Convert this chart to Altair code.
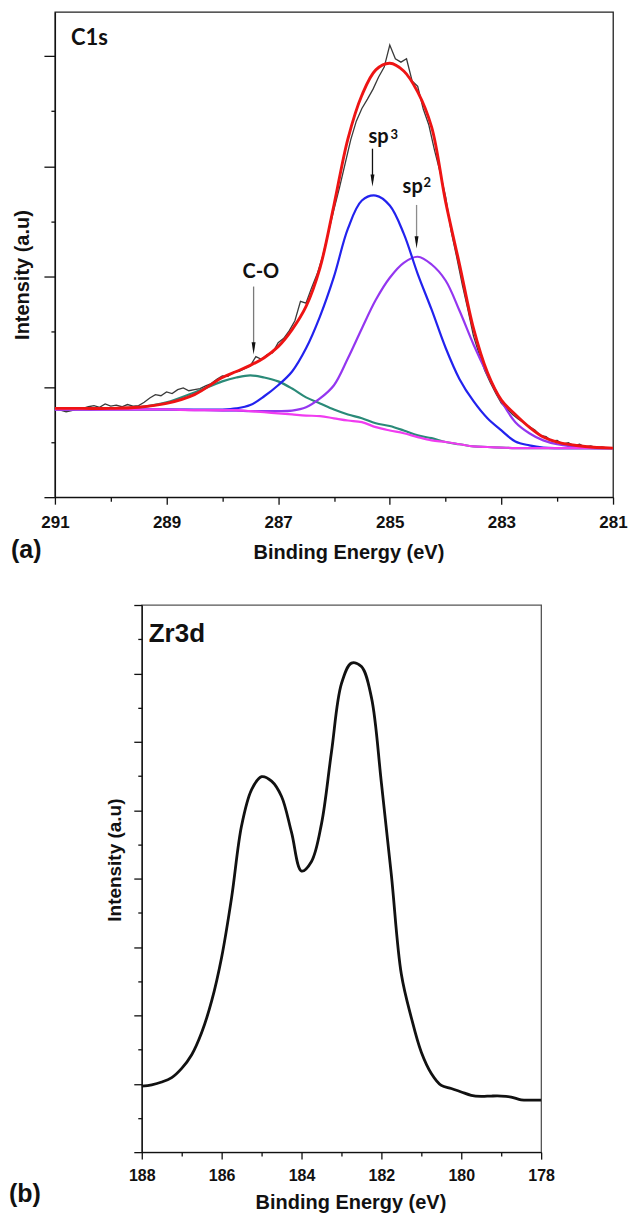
import altair as alt
import pandas as pd

ARIAL = "Liberation Sans"
CALIBRI = "Lato"

# ---------------- Panel (a): C1s ----------------
c1s_energy = [291.0, 290.5, 290.0, 289.5, 289.0, 288.5, 288.0, 287.75, 287.5, 287.25,
              287.0, 286.75, 286.5, 286.25, 286.0, 285.75, 285.5, 285.25, 285.0, 284.75,
              284.5, 284.25, 284.0, 283.75, 283.5, 283.25, 283.0, 282.75, 282.5, 282.25,
              282.0, 281.5, 281.0]
c1s_envelope = [1.61, 1.61, 1.61, 1.63, 1.70, 1.86, 2.17, 2.28, 2.39, 2.53,
                2.73, 3.04, 3.46, 4.16, 5.30, 6.50, 7.29, 7.75, 7.87, 7.73,
                7.35, 6.71, 5.36, 4.22, 3.06, 2.26, 1.76, 1.50, 1.27, 1.09,
                1.00, 0.92, 0.89]
c1s_sp3 = [1.59, 1.59, 1.59, 1.59, 1.59, 1.59, 1.59, 1.61, 1.67, 1.83,
           2.03, 2.28, 2.70, 3.28, 4.00, 4.87, 5.38, 5.47, 5.29, 4.78,
           4.05, 3.40, 2.71, 2.14, 1.74, 1.43, 1.21, 1.01, 0.94, 0.90,
           0.89, 0.89, 0.89]
c1s_sp2 = [1.59, 1.59, 1.59, 1.59, 1.59, 1.58, 1.57, 1.57, 1.56, 1.56,
           1.56, 1.57, 1.63, 1.79, 2.03, 2.52, 3.06, 3.58, 3.98, 4.25,
           4.36, 4.22, 3.93, 3.38, 2.77, 2.23, 1.74, 1.36, 1.16, 1.03,
           0.96, 0.90, 0.89]
c1s_co = [1.59, 1.59, 1.61, 1.63, 1.72, 1.90, 2.10, 2.17, 2.21, 2.17,
          2.10, 1.97, 1.81, 1.70, 1.59, 1.50, 1.43, 1.34, 1.29, 1.21,
          1.12, 1.07, 1.00, 0.96, 0.92, 0.91, 0.90, 0.89, 0.89, 0.89,
          0.89, 0.89, 0.89]
c1s_background = [1.59, 1.59, 1.59, 1.59, 1.59, 1.58, 1.58, 1.58, 1.56, 1.54,
                  1.52, 1.50, 1.48, 1.47, 1.43, 1.39, 1.36, 1.27, 1.21, 1.16,
                  1.09, 1.03, 1.00, 0.96, 0.92, 0.91, 0.90, 0.89, 0.89, 0.89,
                  0.89, 0.89, 0.89]

c1s_raw_energy = [291.0, 290.9, 290.8, 290.7, 290.6, 290.5, 290.4, 290.3, 290.2, 290.1,
                  290.0, 289.9, 289.8, 289.7, 289.6, 289.5, 289.4, 289.3, 289.2, 289.1,
                  289.0, 288.9, 288.8, 288.7, 288.6, 288.5, 288.4, 288.3, 288.2, 288.1,
                  288.0, 287.9, 287.8, 287.7, 287.6, 287.5, 287.4, 287.3, 287.2, 287.1,
                  287.0, 286.9, 286.8, 286.7, 286.6, 286.5, 286.4, 286.3, 286.2, 286.1,
                  286.0, 285.9, 285.8, 285.7, 285.6, 285.5, 285.4, 285.3, 285.2, 285.1,
                  285.0, 284.9, 284.8, 284.7, 284.6, 284.5, 284.4, 284.3, 284.2, 284.1,
                  284.0, 283.9, 283.8, 283.7, 283.6, 283.5, 283.4, 283.3, 283.2, 283.1,
                  283.0, 282.9, 282.8, 282.7, 282.6, 282.5, 282.4, 282.3, 282.2, 282.1,
                  282.0, 281.9, 281.8, 281.7, 281.6, 281.5, 281.4, 281.3, 281.2, 281.1,
                  281.0]
c1s_raw = [1.62, 1.58, 1.55, 1.57, 1.60, 1.61, 1.64, 1.66, 1.63, 1.69,
           1.65, 1.67, 1.64, 1.68, 1.65, 1.66, 1.72, 1.80, 1.86, 1.84,
           1.91, 1.88, 1.95, 1.98, 1.93, 1.95, 1.97, 2.02, 2.06, 2.14,
           2.20, 2.19, 2.27, 2.28, 2.33, 2.38, 2.55, 2.50, 2.58, 2.62,
           2.80, 2.88, 3.02, 3.20, 3.55, 3.52, 3.80, 4.05, 4.38, 4.80,
           5.22, 5.62, 6.05, 6.48, 6.82, 7.05, 7.22, 7.40, 7.62, 7.80,
           8.20, 7.95, 7.89, 7.95, 7.55, 7.45, 7.04, 6.75, 6.30, 5.90,
           5.45, 4.82, 4.35, 3.85, 3.40, 2.92, 2.60, 2.30, 2.08, 1.88,
           1.70, 1.60, 1.50, 1.42, 1.35, 1.28, 1.22, 1.12, 1.10, 1.02,
           1.03, 0.96, 0.99, 0.93, 0.96, 0.91, 0.93, 0.90, 0.91, 0.89,
           0.89]

# peak assignment arrows: energy, arrow top, arrowhead centre, shaft colour
arrow_energy = [285.31, 284.52, 287.44]
arrow_top = [6.32, 5.30, 3.82]
arrow_head = [5.74, 4.62, 2.70]
arrow_color = ["#111111", "#8c8c8c", "#7a7a7a"]

# peak labels
label_text = ["sp", "sp", "C-O"]
label_energy = [285.20, 284.59, 287.31]
label_y = [6.42, 5.52, 3.98]
sup_text = ["3", "2"]
sup_energy = [284.92, 284.33]
sup_y = [6.50, 5.63]

# ---------------- Panel (b): Zr3d ----------------
zr_energy = [188.0, 187.75, 187.5, 187.25, 187.0, 186.75, 186.5, 186.25, 186.0, 185.75,
             185.5, 185.25, 185.0, 184.75, 184.5, 184.25, 184.0, 183.75, 183.5, 183.25,
             183.0, 182.75, 182.5, 182.25, 182.0, 181.75, 181.5, 181.25, 181.0, 180.75,
             180.5, 180.25, 180.0, 179.75, 179.5, 179.25, 179.0, 178.75, 178.5, 178.25,
             178.0]
zr_intensity = [1.93, 1.97, 2.05, 2.18, 2.45, 2.85, 3.50, 4.42, 5.70, 7.45,
                9.55, 10.60, 10.98, 10.85, 10.40, 9.35, 8.22, 8.50, 9.60, 11.70,
                13.70, 14.30, 14.20, 13.30, 10.80, 8.10, 5.20, 3.93, 2.92, 2.30,
                1.95, 1.86, 1.76, 1.66, 1.63, 1.64, 1.64, 1.61, 1.53, 1.52,
                1.52]

ARROWHEAD = "M -0.32 -1 L 0.32 -1 L 0 1 Z"


def x_axis_enc(domain, values, label_parity, title, label_size, label_pad, title_x, title_y):
    return alt.X(
        "energy:Q",
        scale=alt.Scale(domain=domain, reverse=True, nice=False, zero=False),
        axis=alt.Axis(
            values=values,
            labelExpr=f"datum.value % 2 == {label_parity} ? datum.label : ''",
            tickSize=alt.condition(f"datum.value % 2 == {label_parity}", alt.value(7), alt.value(4)),
            labelFlush=False, labelOverlap=False, grid=False,
            labelFont=ARIAL, labelFontWeight="bold", labelFontSize=label_size,
            labelColor="#111111", labelPadding=label_pad,
            tickColor="#111111", tickWidth=1.3, domainColor="#111111", domainWidth=1.3,
            title=title, titleFont=ARIAL, titleFontWeight="bold", titleFontSize=20,
            titleColor="#111111", titleX=title_x, titleY=title_y,
            titleBaseline="middle", titleAlign="center",
        ),
    )


def y_axis_enc(field, domain, values, major_len, title_size, title_x, title_y):
    return alt.Y(
        f"{field}:Q",
        scale=alt.Scale(domain=domain, nice=False, zero=False),
        axis=alt.Axis(
            values=values, labels=False, grid=False,
            tickSize=alt.condition("datum.value % 2 == 0", alt.value(major_len), alt.value(4)),
            tickColor="#111111", tickWidth=1.3, domainColor="#111111", domainWidth=1.3,
            title="Intensity (a.u)", titleFont=ARIAL, titleFontWeight="bold",
            titleFontSize=title_size, titleColor="#111111",
            titleX=title_x, titleY=title_y, titleBaseline="middle", titleAlign="center",
        ),
    )


# ---- panel (a) ----
top_x = x_axis_enc([281, 291], list(range(281, 292)), 1, "Binding Energy (eV)", 17, 10, 294, 55)
top_y_domain = [0, 8.8]

fit_df = pd.DataFrame({
    "energy": c1s_energy,
    "envelope": c1s_envelope,
    "sp3": c1s_sp3,
    "sp2": c1s_sp2,
    "co": c1s_co,
    "background": c1s_background,
})
raw_df = pd.DataFrame({"energy": c1s_raw_energy, "value": c1s_raw})

raw_line = alt.Chart(raw_df).mark_line(color="#3a3a3a", strokeWidth=1.3).encode(
    x=top_x,
    y=y_axis_enc("value", top_y_domain, list(range(0, 9)), 11, 20, -32, 263),
)


def fit_line(field, color, width):
    return alt.Chart(fit_df).mark_line(
        color=color, strokeWidth=width, interpolate="catmull-rom"
    ).encode(x="energy:Q", y=alt.Y(f"{field}:Q"))


arrow_df = pd.DataFrame({
    "energy": arrow_energy, "top": arrow_top, "head": arrow_head, "shaft": arrow_color,
})
shafts = alt.Chart(arrow_df).mark_rule(strokeWidth=1.3).encode(
    x="energy:Q", y="top:Q", y2=alt.Y2("head:Q"),
    color=alt.Color("shaft:N", scale=None),
)
heads = alt.Chart(arrow_df).mark_point(
    shape=ARROWHEAD, filled=True, size=150, color="#111111", opacity=1
).encode(x="energy:Q", y="head:Q")

label_df = pd.DataFrame({"energy": label_energy, "y": label_y, "text": label_text})
labels = alt.Chart(label_df).mark_text(
    font=CALIBRI, fontWeight="bold", fontSize=20, color="#111111", baseline="alphabetic"
).encode(x="energy:Q", y="y:Q", text="text:N")

sup_df = pd.DataFrame({"energy": sup_energy, "y": sup_y, "text": sup_text})
sups = alt.Chart(sup_df).mark_text(
    font=CALIBRI, fontWeight="bold", fontSize=13, color="#111111", baseline="alphabetic"
).encode(x="energy:Q", y="y:Q", text="text:N")

c1s_title = alt.Chart(pd.DataFrame({"t": ["C1s"]})).mark_text(
    font=CALIBRI, fontWeight="bold", fontSize=22, color="#111111", align="left", baseline="alphabetic"
).encode(x=alt.value(16), y=alt.value(33), text="t:N")
tag_a = alt.Chart(pd.DataFrame({"t": ["(a)"]})).mark_text(
    font=ARIAL, fontWeight="bold", fontSize=25, color="#111111", align="left", baseline="alphabetic"
).encode(x=alt.value(-44), y=alt.value(547), text="t:N")

panel_a = alt.layer(
    raw_line,
    fit_line("co", "#2a8a78", 2.2),
    fit_line("sp2", "#9436f0", 2.2),
    fit_line("sp3", "#2222ee", 2.2),
    fit_line("background", "#f03cf0", 2.2),
    fit_line("envelope", "#ee1414", 2.9),
    shafts, heads, labels, sups, c1s_title, tag_a,
).properties(width=559, height=486, view=alt.ViewBackground(stroke="#222222", strokeWidth=1.3))

# ---- panel (b) ----
zr_df = pd.DataFrame({"energy": zr_energy, "value": zr_intensity})
bottom_x = x_axis_enc([178, 188], list(range(178, 189)), 0, "Binding Energy (eV)", 16, 8, 209, 50)

zr_line = alt.Chart(zr_df).mark_line(
    color="#111111", strokeWidth=2.8, interpolate="catmull-rom"
).encode(
    x=bottom_x,
    y=y_axis_enc("value", [0, 16], list(range(0, 17)), 8, 19, -27, 255),
)
zr_title = alt.Chart(pd.DataFrame({"t": ["Zr3d"]})).mark_text(
    font=ARIAL, fontWeight="bold", fontSize=26, color="#111111", align="left", baseline="alphabetic"
).encode(x=alt.value(7), y=alt.value(37), text="t:N")

panel_b = alt.layer(zr_line, zr_title).properties(
    width=400, height=548, view=alt.ViewBackground(stroke="#555555", strokeWidth=1.3)
)

# left column of the lower row: carries only the "(b)" tag and indents panel (b)
tag_b = alt.Chart(pd.DataFrame({"t": ["(b)"]})).mark_text(
    font=ARIAL, fontWeight="bold", fontSize=25, color="#111111", align="left", baseline="alphabetic"
).encode(x=alt.value(-46), y=alt.value(598), text="t:N").properties(
    width=39, height=548, view=alt.ViewBackground(stroke="transparent")
)

lower_row = alt.hconcat(tag_b, panel_b, spacing=10)

chart = alt.vconcat(panel_a, lower_row, spacing=39).properties(
    padding={"left": 8, "top": 10, "right": 0, "bottom": 0},
    background="white",
)

chart.save("out.html", embed_options={"renderer": "svg", "actions": False})
